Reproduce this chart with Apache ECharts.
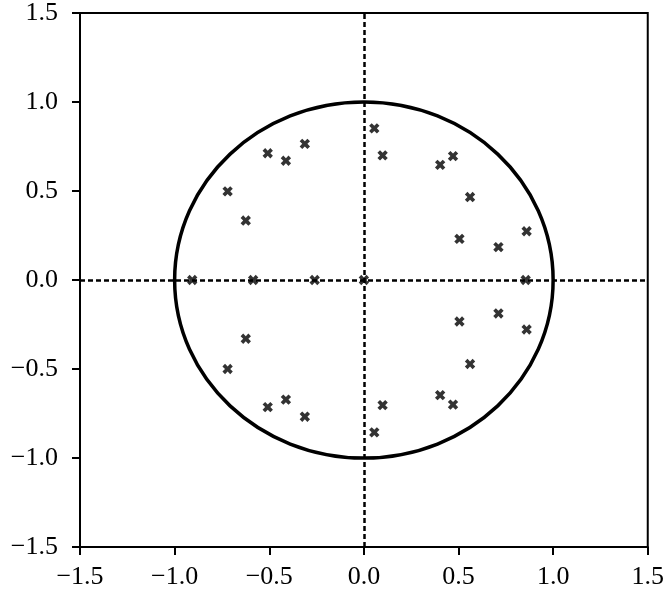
<!DOCTYPE html>
<html>
<head>
<meta charset="utf-8">
<script src="https://cdn.jsdelivr.net/npm/echarts@6/dist/echarts.min.js"></script>
<style>html,body{margin:0;padding:0;background:#fff}#c{width:667px;height:592px}</style>
</head>
<body>
<div id="c"></div>
<script>
// Point positions (real, imaginary)
const pointsX = [0.055, 0.099, 0.403, 0.471, 0.561, 0.505, 0.711, 0.860, 0.855,
                 0.055, 0.099, 0.403, 0.471, 0.561, 0.505, 0.711, 0.860,
                 -0.312, -0.508, -0.412, -0.720, -0.624, -0.907, -0.585, -0.260,
                 -0.312, -0.508, -0.412, -0.720, -0.624, 0.0];
const pointsY = [0.852, 0.700, 0.647, 0.696, 0.466, 0.231, 0.185, 0.274, 0.0,
                 -0.856, -0.703, -0.647, -0.700, -0.472, -0.233, -0.188, -0.278,
                 0.765, 0.712, 0.670, 0.498, 0.334, 0.0, 0.0, 0.0,
                 -0.768, -0.714, -0.672, -0.500, -0.330, 0.0];
const axisMin = -1.5, axisMax = 1.5, axisStep = 0.5;
const circleRadius = 1;

const fontFam = '"Liberation Serif", "DejaVu Serif", serif';
const fmt = v => (v < 0 ? '\u2212' : '') + Math.abs(v).toFixed(1);

const chart = echarts.init(document.getElementById('c'));
const axisCommon = {
  type: 'value', min: axisMin, max: axisMax, interval: axisStep,
  axisLine: { onZero: false, lineStyle: { color: '#000', width: 2 } },
  axisTick: { show: true, inside: false, length: 8, lineStyle: { color: '#000', width: 2 } },
  splitLine: { show: false },
  axisLabel: { color: '#000', fontFamily: fontFam, fontSize: 26, formatter: fmt }
};
const xPlus = 'path://M1,0 L2,0 L2,1 L3,1 L3,2 L2,2 L2,3 L1,3 L1,2 L0,2 L0,1 L1,1 Z';
chart.setOption({
  animation: false,
  grid: { left: 80, right: 16, top: 11, bottom: 45, show: true, borderColor: '#000', borderWidth: 2, backgroundColor: 'transparent' },
  xAxis: Object.assign({}, axisCommon, { axisLabel: Object.assign({}, axisCommon.axisLabel, { margin: 17 }) }),
  yAxis: Object.assign({}, axisCommon, { axisLabel: Object.assign({}, axisCommon.axisLabel, { margin: 22 }) }),
  series: [
    {
      type: 'custom',
      data: [[0, 0, circleRadius]],
      renderItem: function (params, api) {
        const c = api.coord([api.value(0), api.value(1)]);
        const s = api.size([api.value(2), api.value(2)]);
        return {
          type: 'ellipse',
          shape: { cx: c[0], cy: c[1], rx: s[0], ry: s[1] },
          style: { fill: 'none', stroke: '#000', lineWidth: 3.5 }
        };
      },
      z: 2
    },
    {
      type: 'line',
      data: [],
      markLine: {
        silent: true, symbol: 'none', label: { show: false },
        lineStyle: { color: '#000', type: [5, 3], width: 2.5 },
        data: [{ xAxis: 0 }, { yAxis: 0 }]
      },
      z: 3
    },
    {
      type: 'scatter',
      data: pointsX.map((x, i) => [x, pointsY[i]]),
      symbol: xPlus, symbolSize: 11, symbolRotate: 45,
      itemStyle: { color: '#000' },
      z: 4
    }
  ]
});
</script>
</body>
</html>
